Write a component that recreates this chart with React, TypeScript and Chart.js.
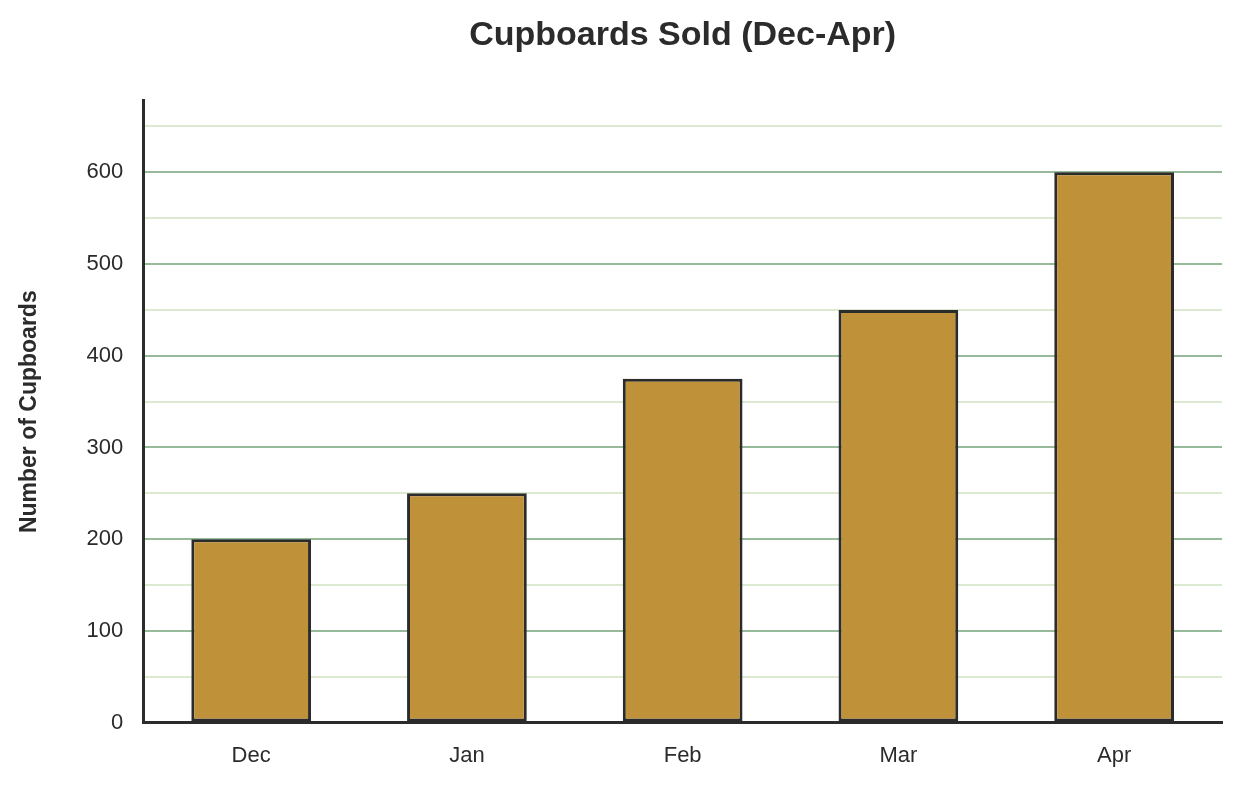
import { useEffect, useRef } from "react";
import Chart from "chart.js/auto";

const months = ["Dec", "Jan", "Feb", "Mar", "Apr"];
const cupboardsSold = [200, 250, 375, 450, 600];
const yGridValues = [0, 50, 100, 150, 200, 250, 300, 350, 400, 450, 500, 550, 600, 650];
const yAxisMax = 678;

const textColor = "#2b2b2b";
const majorGrid = "#96ba9a";
const minorGrid = "#dcead2";
const fontFamily = "'Liberation Sans', Arial, sans-serif";

export default function App() {
    const canvasRef = useRef<HTMLCanvasElement | null>(null);
    const chartRef = useRef<Chart | null>(null);

    useEffect(() => {
        document.body.style.margin = "0";
        const canvas = canvasRef.current;
        if (!canvas) {
            return;
        }
        if (chartRef.current) {
            chartRef.current.destroy();
        }

        chartRef.current = new Chart(canvas, {
            type: "bar",
            data: {
                labels: months,
                datasets: [
                    {
                        label: "Cupboards",
                        data: cupboardsSold,
                        backgroundColor: "#bf9138",
                        borderColor: textColor,
                        borderWidth: 3,
                        borderSkipped: false,
                        categoryPercentage: 1,
                        barPercentage: 0.555,
                    },
                ],
            },
            options: {
                animation: false,
                responsive: true,
                maintainAspectRatio: false,
                layout: { padding: { left: 0, right: 19, top: 0, bottom: -3 } },
                scales: {
                    x: {
                        grid: { display: false, drawTicks: false },
                        border: { display: true, color: textColor, width: 3 },
                        ticks: {
                            color: textColor,
                            padding: 20,
                            font: { family: fontFamily, size: 22 },
                        },
                    },
                    y: {
                        min: 0,
                        max: yAxisMax,
                        afterBuildTicks: (scale) => {
                            scale.ticks = yGridValues.map((value) => ({ value }));
                        },
                        grid: {
                            drawTicks: false,
                            lineWidth: 2,
                            color: (ctx) => {
                                const v = ctx.tick ? ctx.tick.value : 0;
                                if (v === 0) return "rgba(0,0,0,0)";
                                return v % 100 === 0 ? majorGrid : minorGrid;
                            },
                        },
                        border: { display: true, color: textColor, width: 3 },
                        ticks: {
                            color: textColor,
                            padding: 20,
                            font: { family: fontFamily, size: 22 },
                            callback: (value) =>
                                Number(value) % 100 === 0 ? String(value) : "",
                        },
                        title: {
                            display: true,
                            text: "Number of Cupboards",
                            color: textColor,
                            padding: { top: 16, bottom: 23 },
                            font: { family: fontFamily, size: 23, weight: "bold" },
                        },
                    },
                },
                plugins: {
                    legend: { display: false },
                    tooltip: { enabled: false },
                    title: {
                        display: true,
                        text: "Cupboards Sold (Dec-Apr)",
                        color: textColor,
                        fullSize: false,
                        padding: { top: 15, bottom: 45 },
                        font: { family: fontFamily, size: 34, weight: "bold" },
                    },
                },
            },
        });

        return () => {
            if (chartRef.current) {
                chartRef.current.destroy();
                chartRef.current = null;
            }
        };
    }, []);

    return (
        <div style={{ width: 1241, height: 786, position: "relative" }}>
            <canvas ref={canvasRef} />
        </div>
    );
}
